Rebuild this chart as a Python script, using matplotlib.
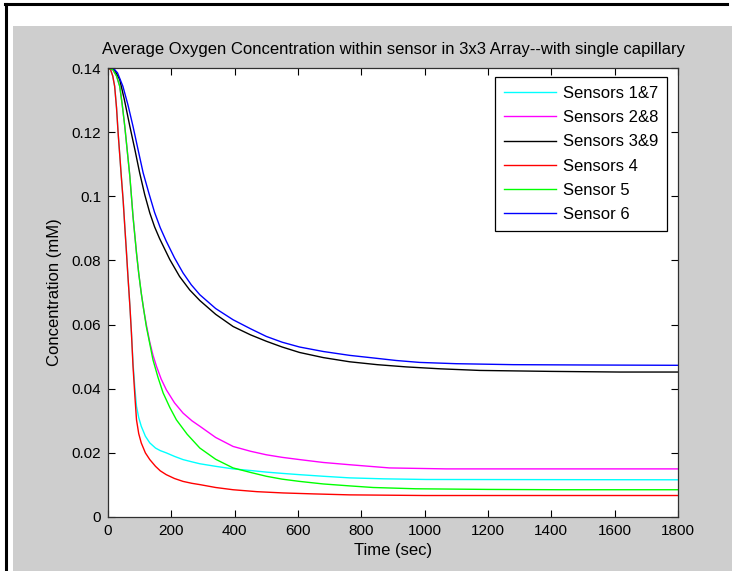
import matplotlib
matplotlib.use('Agg')
import matplotlib.pyplot as plt
from matplotlib.patches import Rectangle
from matplotlib.lines import Line2D

plt.rcParams['font.family'] = ['Liberation Sans', 'DejaVu Sans']

# Valori (tempo in s, concentrazione in mM)
t_s17 = [0, 8, 15, 21, 27, 32, 37, 42, 48, 53, 58, 63, 69, 74, 79, 85, 90, 97, 105, 118, 132, 150, 165,
         184, 210, 237, 265, 290, 340, 395, 450, 500, 550, 605, 680, 763, 870, 1005, 1800]
c_s17 = [0.1400, 0.1395, 0.1375, 0.1343, 0.1275, 0.1197, 0.1130, 0.1062, 0.0985, 0.0906, 0.0830, 0.0750,
         0.0660, 0.0574, 0.0480, 0.0400, 0.0345, 0.0310, 0.0283, 0.0252, 0.0231, 0.0215, 0.0207,
         0.0200, 0.0189, 0.0179, 0.0172, 0.0166, 0.0158, 0.0150, 0.0145, 0.0140, 0.0136, 0.0132,
         0.0127, 0.0122, 0.0119, 0.0117, 0.0116]

t_s28 = [0, 15, 27, 37, 45, 53, 61, 69, 74, 79, 85, 90, 97, 105, 113, 121, 132, 142, 153, 168, 184, 210,
         237, 265, 290, 340, 395, 450, 500, 550, 605, 680, 763, 889, 1068, 1800]
c_s28 = [0.1400, 0.1395, 0.1375, 0.1343, 0.1285, 0.1218, 0.1140, 0.1062, 0.1000, 0.0937, 0.0875, 0.0823,
         0.0760, 0.0698, 0.0645, 0.0600, 0.0545, 0.0505, 0.0470, 0.0430, 0.0397, 0.0356, 0.0324,
         0.0300, 0.0283, 0.0248, 0.0220, 0.0205, 0.0194, 0.0186, 0.0179, 0.0170, 0.0163, 0.0153,
         0.0150, 0.0150]

t_s39 = [0, 20, 37, 52, 69, 85, 100, 116, 132, 147, 163, 195, 226, 258, 290, 340, 395, 450, 500, 550,
         605, 680, 763, 850, 942, 1050, 1174, 1400, 1616, 1800]
c_s39 = [0.1400, 0.1395, 0.1364, 0.1300, 0.1218, 0.1145, 0.1073, 0.1005, 0.0948, 0.0905, 0.0868, 0.0803,
         0.0750, 0.0708, 0.0675, 0.0632, 0.0594, 0.0568, 0.0548, 0.0530, 0.0513, 0.0497, 0.0484,
         0.0475, 0.0468, 0.0462, 0.0457, 0.0454, 0.0452, 0.0452]

t_s4 = [0, 8, 15, 21, 27, 32, 37, 42, 48, 53, 58, 63, 69, 74, 79, 85, 90, 97, 105, 118, 132, 150, 165,
        184, 210, 237, 265, 290, 340, 395, 470, 553, 650, 763, 1000, 1800]
c_s4 = [0.1400, 0.1395, 0.1375, 0.1343, 0.1275, 0.1197, 0.1130, 0.1062, 0.0985, 0.0906, 0.0830, 0.0750,
        0.0660, 0.0574, 0.0470, 0.0375, 0.0303, 0.0260, 0.0231, 0.0200, 0.0179, 0.0158, 0.0144,
        0.0132, 0.0120, 0.0111, 0.0105, 0.0101, 0.0092, 0.0085, 0.0079, 0.0075, 0.0072, 0.0069,
        0.0067, 0.0067]

t_s5 = [0, 15, 27, 37, 45, 53, 61, 69, 74, 79, 85, 90, 97, 105, 113, 121, 132, 142, 158, 174, 195, 216,
        250, 290, 340, 395, 450, 500, 550, 605, 680, 763, 837, 972, 1200, 1425, 1800]
c_s5 = [0.1400, 0.1395, 0.1375, 0.1343, 0.1285, 0.1218, 0.1140, 0.1062, 0.1000, 0.0937, 0.0875, 0.0823,
        0.0760, 0.0698, 0.0645, 0.0594, 0.0540, 0.0490, 0.0435, 0.0387, 0.0342, 0.0303, 0.0258,
        0.0215, 0.0180, 0.0153, 0.0139, 0.0127, 0.0118, 0.0111, 0.0103, 0.0097, 0.0092, 0.0088,
        0.0086, 0.0085, 0.0085]

t_s6 = [0, 16, 30, 47, 63, 79, 95, 111, 129, 147, 165, 184, 210, 237, 263, 290, 340, 395, 450, 500, 550,
        605, 680, 763, 837, 910, 984, 1100, 1279, 1500, 1800]
c_s6 = [0.1400, 0.1400, 0.1385, 0.1343, 0.1285, 0.1218, 0.1145, 0.1073, 0.1010, 0.0950, 0.0902, 0.0860,
        0.0808, 0.0761, 0.0724, 0.0693, 0.0650, 0.0615, 0.0587, 0.0563, 0.0545, 0.0530, 0.0516,
        0.0504, 0.0496, 0.0488, 0.0482, 0.0478, 0.0475, 0.0474, 0.0473]

labels = ['Sensors 1&7', 'Sensors 2&8', 'Sensors 3&9', 'Sensors 4', 'Sensor 5', 'Sensor 6']
colori = ['#00ffff', '#ff00ff', '#000000', '#ff0000', '#00ff00', '#0000ff']

fig = plt.figure(figsize=(7.32, 5.71), dpi=100)
fig.patch.set_facecolor('white')

# sfondo grigio e cornice nera come nello screenshot
W, H = 732.0, 571.0
fig.add_artist(Rectangle((13 / W, 0), 1 - 13 / W, (H - 26) / H, transform=fig.transFigure,
                         facecolor='#cecece', edgecolor='none', zorder=0))
fig.add_artist(Line2D([6 / W, 6 / W], [0, 1 - 4 / H], transform=fig.transFigure, color='black', lw=2.2))
fig.add_artist(Line2D([5 / W, 727 / W], [1 - 4 / H, 1 - 4 / H], transform=fig.transFigure, color='black', lw=2.2))

ax = fig.add_axes([108 / W, 54 / H, 570 / W, 449 / H])
ax.set_facecolor('white')

serie = [(t_s17, c_s17), (t_s28, c_s28), (t_s39, c_s39), (t_s4, c_s4), (t_s5, c_s5), (t_s6, c_s6)]
for (t, c), lab, col in zip(serie, labels, colori):
    ax.plot(t, c, color=col, lw=1.0, label=lab)

ax.set_xlim(0, 1800)
ax.set_ylim(0, 0.14)
ax.set_xticks(range(0, 1801, 200))
ax.set_yticks([0, 0.02, 0.04, 0.06, 0.08, 0.1, 0.12, 0.14])
ax.set_yticklabels(['0', '0.02', '0.04', '0.06', '0.08', '0.1', '0.12', '0.14'])
ax.tick_params(direction='in', length=5, width=0.8, top=True, right=True, labelsize=11, pad=5)
for s in ax.spines.values():
    s.set_linewidth(0.9)
    s.set_color('#303030')

ax.set_title('Average Oxygen Concentration within sensor in 3x3 Array--with single capillary',
             fontsize=12, pad=10)
ax.set_xlabel('Time (sec)', fontsize=12, labelpad=4)
ax.set_ylabel('Concentration (mM)', fontsize=12, labelpad=7)

leg = ax.legend(loc='upper right', bbox_to_anchor=(0.981, 0.980), fontsize=12, frameon=True,
                fancybox=False, edgecolor='black', framealpha=1, handlelength=3.1,
                handletextpad=0.4, labelspacing=0.55, borderpad=0.55, borderaxespad=0)
leg.get_frame().set_linewidth(0.9)

fig.savefig('out.png', dpi=100)
